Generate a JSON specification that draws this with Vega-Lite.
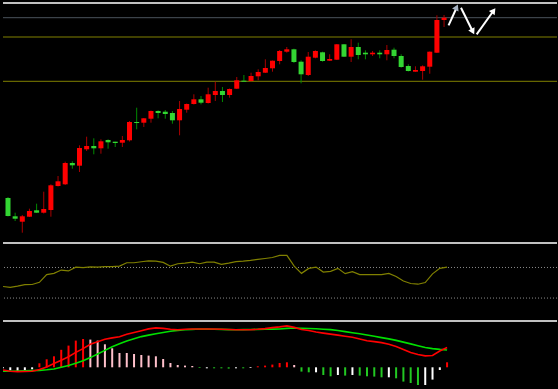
{
  "$schema": "https://vega.github.io/schema/vega-lite/v6.json",
  "background": "#000000",
  "padding": {"left": 2, "top": 2, "right": 2, "bottom": 3},
  "spacing": 0,
  "bounds": "flush",
  "resolve": {"scale": {"color": "independent", "x": "independent", "y": "independent"}},
  "config": {"view": {"stroke": null}},
  "datasets": {
    "bars": [
      {"i":0,"o":45,"h":46,"l":26.5,"c":27,"rsi":45.1,"dif":-2.7,"dea":-4,"hist":-1,"hs":"W"},
      {"i":1,"o":26.7,"h":30.3,"l":22,"c":24.3,"rsi":43.9,"dif":-3.9,"dea":-3.9,"hist":-3,"hs":"W"},
      {"i":2,"o":21.3,"h":28,"l":10.3,"c":26.7,"rsi":45.5,"dif":-4.3,"dea":-3.8,"hist":-4,"hs":"W"},
      {"i":3,"o":26.3,"h":34.3,"l":26,"c":32,"rsi":47.5,"dif":-4.2,"dea":-3.6,"hist":-3,"hs":"W"},
      {"i":4,"o":32.7,"h":39.3,"l":30,"c":30.3,"rsi":47.7,"dif":-3.9,"dea":-3.3,"hist":-2,"hs":"W"},
      {"i":5,"o":30.3,"h":51.3,"l":29.5,"c":34,"rsi":50.6,"dif":-2.2,"dea":-3.1,"hist":4,"hs":"R"},
      {"i":6,"o":33,"h":58.7,"l":26.3,"c":57.7,"rsi":60.6,"dif":0.3,"dea":-2.5,"hist":8,"hs":"R"},
      {"i":7,"o":57,"h":67,"l":56.5,"c":61.7,"rsi":62.3,"dif":3.8,"dea":-1.7,"hist":11,"hs":"R"},
      {"i":8,"o":58.7,"h":81.3,"l":58,"c":80,"rsi":66.6,"dif":7.1,"dea":0.1,"hist":17.5,"hs":"R"},
      {"i":9,"o":80,"h":81.7,"l":74.3,"c":77.7,"rsi":65.5,"dif":10.5,"dea":1.8,"hist":21.7,"hs":"R"},
      {"i":10,"o":77.3,"h":97.7,"l":71,"c":95,"rsi":70.4,"dif":14.9,"dea":4,"hist":26.7,"hs":"R"},
      {"i":11,"o":93.7,"h":106.3,"l":92,"c":97,"rsi":69.9,"dif":18.7,"dea":6.5,"hist":28.3,"hs":"R"},
      {"i":12,"o":97,"h":104.7,"l":88.7,"c":94.7,"rsi":70.9,"dif":23,"dea":9.7,"hist":27.7,"hs":"P"},
      {"i":13,"o":94.7,"h":103.7,"l":89.3,"c":101.7,"rsi":70.5,"dif":25.6,"dea":13.3,"hist":26.7,"hs":"P"},
      {"i":14,"o":103,"h":103.7,"l":94.3,"c":100.7,"rsi":71,"dif":28.1,"dea":16.9,"hist":23,"hs":"P"},
      {"i":15,"o":101.3,"h":101.3,"l":96,"c":100,"rsi":71,"dif":29.4,"dea":20.6,"hist":19,"hs":"P"},
      {"i":16,"o":100.3,"h":107,"l":96,"c":103,"rsi":71.8,"dif":30.6,"dea":23.5,"hist":14.3,"hs":"P"},
      {"i":17,"o":102.7,"h":122,"l":101.5,"c":121,"rsi":76.2,"dif":33,"dea":26.3,"hist":14.3,"hs":"P"},
      {"i":18,"o":121,"h":135.3,"l":113.7,"c":120,"rsi":76.2,"dif":34.8,"dea":28.5,"hist":13.3,"hs":"P"},
      {"i":19,"o":120.3,"h":125,"l":116,"c":124.7,"rsi":77.5,"dif":36.6,"dea":30.7,"hist":12.3,"hs":"P"},
      {"i":20,"o":124.3,"h":132.5,"l":120.3,"c":132,"rsi":78.7,"dif":38.4,"dea":32.2,"hist":11.7,"hs":"P"},
      {"i":21,"o":132,"h":132.7,"l":124.7,"c":130,"rsi":78.4,"dif":39.4,"dea":33.6,"hist":11,"hs":"P"},
      {"i":22,"o":131.3,"h":133,"l":124.3,"c":129,"rsi":76.6,"dif":38.9,"dea":34.8,"hist":8.3,"hs":"P"},
      {"i":23,"o":130,"h":132,"l":119.3,"c":122.7,"rsi":71.7,"dif":38.1,"dea":36,"hist":4.3,"hs":"P"},
      {"i":24,"o":122.7,"h":142,"l":107.7,"c":134,"rsi":74.9,"dif":37.6,"dea":36.9,"hist":2.3,"hs":"P"},
      {"i":25,"o":133.3,"h":139.5,"l":130.3,"c":139,"rsi":75.7,"dif":38.1,"dea":37.5,"hist":1.7,"hs":"P"},
      {"i":26,"o":139,"h":148.7,"l":138.5,"c":143.7,"rsi":77,"dif":38.3,"dea":37.9,"hist":1.3,"hs":"P"},
      {"i":27,"o":143.7,"h":147,"l":138.7,"c":140.3,"rsi":74.9,"dif":38.3,"dea":38.3,"hist":-0.7,"hs":"G"},
      {"i":28,"o":140,"h":155.3,"l":139.5,"c":148.7,"rsi":76.9,"dif":38.3,"dea":38.2,"hist":-1,"hs":"W"},
      {"i":29,"o":148,"h":161.3,"l":142,"c":152,"rsi":77,"dif":38.3,"dea":38,"hist":-1,"hs":"G"},
      {"i":30,"o":152,"h":156,"l":141,"c":148,"rsi":74,"dif":38.1,"dea":37.9,"hist":-1,"hs":"G"},
      {"i":31,"o":148,"h":154.5,"l":145.3,"c":154,"rsi":75.7,"dif":37.8,"dea":37.7,"hist":-1.3,"hs":"G"},
      {"i":32,"o":154.3,"h":166,"l":154,"c":162.7,"rsi":77.7,"dif":37.6,"dea":37.6,"hist":-1,"hs":"W"},
      {"i":33,"o":162.3,"h":168,"l":161.3,"c":161.3,"rsi":78.3,"dif":37.6,"dea":37.7,"hist":-1,"hs":"G"},
      {"i":34,"o":162,"h":170.3,"l":161.5,"c":167,"rsi":79.2,"dif":37.6,"dea":37.8,"hist":-0.7,"hs":"W"},
      {"i":35,"o":166.7,"h":173.7,"l":162.7,"c":171,"rsi":80.5,"dif":38,"dea":37.9,"hist":1,"hs":"R"},
      {"i":36,"o":170.3,"h":183.7,"l":170,"c":175,"rsi":81.7,"dif":38.7,"dea":38,"hist":1.7,"hs":"R"},
      {"i":37,"o":174.7,"h":182.5,"l":171.3,"c":182.3,"rsi":83,"dif":39.7,"dea":38.2,"hist":2.7,"hs":"R"},
      {"i":38,"o":182,"h":193,"l":178.7,"c":192,"rsi":85.7,"dif":40.4,"dea":38.3,"hist":4.3,"hs":"R"},
      {"i":39,"o":191.3,"h":196,"l":190.3,"c":193.7,"rsi":85.7,"dif":41.4,"dea":38.9,"hist":5,"hs":"R"},
      {"i":40,"o":193.7,"h":194.3,"l":180,"c":181,"rsi":71.8,"dif":39.9,"dea":39.3,"hist":2.3,"hs":"P"},
      {"i":41,"o":181.3,"h":182.7,"l":159.7,"c":168.7,"rsi":62.3,"dif":37.8,"dea":39.1,"hist":-4.3,"hs":"G"},
      {"i":42,"o":168,"h":191,"l":167,"c":186.3,"rsi":68.8,"dif":36.8,"dea":38.8,"hist":-5,"hs":"G"},
      {"i":43,"o":185.3,"h":192.7,"l":184.7,"c":192,"rsi":70.5,"dif":35.3,"dea":38.5,"hist":-5,"hs":"W"},
      {"i":44,"o":190.7,"h":191.3,"l":181.3,"c":182,"rsi":64,"dif":34.2,"dea":38.1,"hist":-7.7,"hs":"G"},
      {"i":45,"o":182.3,"h":188.7,"l":182,"c":184,"rsi":64.9,"dif":33.2,"dea":37.7,"hist":-9,"hs":"G"},
      {"i":46,"o":183.3,"h":199,"l":183,"c":198.7,"rsi":68.8,"dif":32.2,"dea":36.8,"hist":-7.7,"hs":"W"},
      {"i":47,"o":198.7,"h":199,"l":186,"c":186.3,"rsi":61.9,"dif":31.1,"dea":35.7,"hist":-8.3,"hs":"G"},
      {"i":48,"o":186.3,"h":203.7,"l":181,"c":196,"rsi":64.5,"dif":30,"dea":34.6,"hist":-7.7,"hs":"W"},
      {"i":49,"o":196,"h":200.3,"l":183.7,"c":188,"rsi":60.6,"dif":28.3,"dea":33.5,"hist":-8.3,"hs":"G"},
      {"i":50,"o":190.3,"h":192.7,"l":183.7,"c":188.7,"rsi":60.6,"dif":26.6,"dea":32.3,"hist":-9,"hs":"G"},
      {"i":51,"o":188.7,"h":192,"l":187,"c":190.3,"rsi":60.6,"dif":25.7,"dea":31,"hist":-9.3,"hs":"G"},
      {"i":52,"o":190.3,"h":192.7,"l":184.7,"c":188.7,"rsi":60.6,"dif":24.7,"dea":29.7,"hist":-10,"hs":"G"},
      {"i":53,"o":188.7,"h":198,"l":182.7,"c":193,"rsi":62.3,"dif":23.1,"dea":28.4,"hist":-10,"hs":"W"},
      {"i":54,"o":193.3,"h":195.3,"l":184.7,"c":187,"rsi":58.1,"dif":20.7,"dea":26.9,"hist":-11,"hs":"G"},
      {"i":55,"o":187,"h":188.7,"l":175.3,"c":176,"rsi":52.3,"dif":17.9,"dea":25.2,"hist":-14.3,"hs":"G"},
      {"i":56,"o":177,"h":178.7,"l":171.5,"c":172,"rsi":49,"dif":14.9,"dea":23.4,"hist":-15.7,"hs":"G"},
      {"i":57,"o":171.3,"h":176.7,"l":171.3,"c":173,"rsi":48.1,"dif":12.8,"dea":21.6,"hist":-17.7,"hs":"G"},
      {"i":58,"o":172,"h":177.7,"l":163.3,"c":176.7,"rsi":50.3,"dif":11.4,"dea":19.8,"hist":-17.7,"hs":"W"},
      {"i":59,"o":176.3,"h":191.5,"l":169.3,"c":191.3,"rsi":61.7,"dif":11.8,"dea":18.7,"hist":-12.3,"hs":"W"},
      {"i":60,"o":190.3,"h":227.7,"l":190,"c":223,"rsi":68.8,"dif":16.3,"dea":17.9,"hist":-2.7,"hs":"W"},
      {"i":61,"o":223,"h":228,"l":216,"c":225.3,"rsi":70.5,"dif":19.8,"dea":17.3,"hist":5,"hs":"R"}
    ],
    "levels": [
      {"level": 225.3, "kind": "mark"},
      {"level": 206, "kind": "band"},
      {"level": 161.7, "kind": "band"}
    ],
    "rsiLevels": [{"level": 70}, {"level": 30}],
    "arrows": [
      {"id": 1, "x": 61.63, "y": 217.7, "x2": 62.8, "y2": 236, "hx": 62.75, "hy": 235.8},
      {"id": 2, "x": 63.37, "y": 235.3, "x2": 65.05, "y2": 211, "hx": 65.02, "hy": 211.4},
      {"id": 3, "x": 65.56, "y": 208.7, "x2": 67.9, "y2": 232, "hx": 67.93, "hy": 232.3}
    ]
  },
  "vconcat": [
    {
      "width": 554,
      "height": 240,
      "layer": [
        {
          "data": {"name": "levels"},
          "mark": {"type": "rule", "strokeWidth": 1},
          "encoding": {
            "y": {"field": "level", "type": "quantitative", "scale": {"domain": [0, 240], "nice": false, "zero": false}, "axis": null},
            "color": {"field": "kind", "type": "nominal", "scale": {"domain": ["mark", "band"], "range": ["#4a535c", "#808000"]}, "legend": null}
          }
        },
        {
          "data": {"name": "bars"},
          "mark": {"type": "rule", "strokeWidth": 1, "clip": true},
          "encoding": {
            "x": {"field": "i", "type": "quantitative", "scale": {"domain": [0, 76.1], "nice": false, "zero": false}, "axis": null},
            "y": {"field": "h", "type": "quantitative", "scale": {"domain": [0, 240], "nice": false, "zero": false}, "axis": null},
            "y2": {"field": "l"},
            "color": {"condition": {"test": "datum.c >= datum.o", "value": "#a80000"}, "value": "#008a00"}
          }
        },
        {
          "data": {"name": "bars"},
          "mark": {"type": "bar", "size": 5, "clip": true},
          "encoding": {
            "x": {"field": "i", "type": "quantitative", "scale": {"domain": [0, 76.1], "nice": false, "zero": false}, "axis": null},
            "y": {"field": "o", "type": "quantitative", "scale": {"domain": [0, 240], "nice": false, "zero": false}, "axis": null},
            "y2": {"field": "c"},
            "color": {"condition": {"test": "datum.c >= datum.o", "value": "#ff0000"}, "value": "#33d633"}
          }
        },
        {
          "data": {"name": "arrows"},
          "mark": {"type": "rule", "strokeWidth": 2, "color": "#ffffff", "clip": true},
          "encoding": {
            "x": {"field": "x", "type": "quantitative", "scale": {"domain": [0, 76.1], "nice": false, "zero": false}, "axis": null},
            "x2": {"field": "x2"},
            "y": {"field": "y", "type": "quantitative", "scale": {"domain": [0, 240], "nice": false, "zero": false}, "axis": null},
            "y2": {"field": "y2"}
          }
        },
        {
          "data": {"name": "arrows"},
          "transform": [{"filter": "datum.id == 1"}],
          "mark": {"type": "point", "shape": "triangle-up", "filled": true, "opacity": 1, "size": 50, "angle": 24, "color": "#a6b2c2", "clip": true},
          "encoding": {
            "x": {"field": "hx", "type": "quantitative", "scale": {"domain": [0, 76.1], "nice": false, "zero": false}, "axis": null},
            "y": {"field": "hy", "type": "quantitative", "scale": {"domain": [0, 240], "nice": false, "zero": false}, "axis": null}
          }
        },
        {
          "data": {"name": "arrows"},
          "transform": [{"filter": "datum.id == 2"}],
          "mark": {"type": "point", "shape": "triangle-up", "filled": true, "opacity": 1, "size": 50, "angle": 153, "color": "#ffffff", "clip": true},
          "encoding": {
            "x": {"field": "hx", "type": "quantitative", "scale": {"domain": [0, 76.1], "nice": false, "zero": false}, "axis": null},
            "y": {"field": "hy", "type": "quantitative", "scale": {"domain": [0, 240], "nice": false, "zero": false}, "axis": null}
          }
        },
        {
          "data": {"name": "arrows"},
          "transform": [{"filter": "datum.id == 3"}],
          "mark": {"type": "point", "shape": "triangle-up", "filled": true, "opacity": 1, "size": 50, "angle": 36, "color": "#ffffff", "clip": true},
          "encoding": {
            "x": {"field": "hx", "type": "quantitative", "scale": {"domain": [0, 76.1], "nice": false, "zero": false}, "axis": null},
            "y": {"field": "hy", "type": "quantitative", "scale": {"domain": [0, 240], "nice": false, "zero": false}, "axis": null}
          }
        },
        {
          "data": {"values": [{}]},
          "mark": {"type": "rule", "strokeWidth": 2, "color": "#c0c0c0"},
          "encoding": {"y": {"datum": 240, "type": "quantitative", "scale": {"domain": [0, 240], "nice": false, "zero": false}, "axis": null}}
        }
      ]
    },
    {
      "width": 554,
      "height": 78,
      "layer": [
        {
          "data": {"name": "rsiLevels"},
          "mark": {"type": "rule", "strokeWidth": 1, "strokeDash": [1, 2], "color": "#8a8a8a"},
          "encoding": {
            "y": {"field": "level", "type": "quantitative", "scale": {"domain": [0, 102], "nice": false, "zero": false}, "axis": null}
          }
        },
        {
          "data": {"name": "bars"},
          "mark": {"type": "line", "strokeWidth": 1.2, "color": "#808000", "clip": true},
          "encoding": {
            "x": {"field": "i", "type": "quantitative", "scale": {"domain": [0, 76.1], "nice": false, "zero": false}, "axis": null},
            "y": {"field": "rsi", "type": "quantitative", "scale": {"domain": [0, 102], "nice": false, "zero": false}, "axis": null}
          }
        },
        {
          "data": {"values": [{}]},
          "mark": {"type": "rule", "strokeWidth": 2, "color": "#c0c0c0"},
          "encoding": {"y": {"datum": 102, "type": "quantitative", "scale": {"domain": [0, 102], "nice": false, "zero": false}, "axis": null}}
        }
      ]
    },
    {
      "width": 554,
      "height": 66,
      "layer": [
        {
          "data": {"name": "bars"},
          "mark": {"type": "rule", "strokeWidth": 2, "clip": true},
          "encoding": {
            "x": {"field": "i", "type": "quantitative", "scale": {"domain": [0, 76.1], "nice": false, "zero": false}, "axis": null},
            "y": {"field": "hist", "type": "quantitative", "scale": {"domain": [-19.7, 46.3], "nice": false, "zero": false}, "axis": null},
            "y2": {"datum": 0},
            "color": {"field": "hs", "type": "nominal", "scale": {"domain": ["R", "P", "G", "W"], "range": ["#ff0000", "#ffc0cb", "#22c822", "#ffffff"]}, "legend": null}
          }
        },
        {
          "data": {"name": "bars"},
          "mark": {"type": "line", "strokeWidth": 1.6, "color": "#00e000", "clip": true},
          "encoding": {
            "x": {"field": "i", "type": "quantitative", "scale": {"domain": [0, 76.1], "nice": false, "zero": false}, "axis": null},
            "y": {"field": "dea", "type": "quantitative", "scale": {"domain": [-19.7, 46.3], "nice": false, "zero": false}, "axis": null}
          }
        },
        {
          "data": {"name": "bars"},
          "mark": {"type": "line", "strokeWidth": 1.6, "color": "#ff0000", "clip": true},
          "encoding": {
            "x": {"field": "i", "type": "quantitative", "scale": {"domain": [0, 76.1], "nice": false, "zero": false}, "axis": null},
            "y": {"field": "dif", "type": "quantitative", "scale": {"domain": [-19.7, 46.3], "nice": false, "zero": false}, "axis": null}
          }
        },
        {
          "data": {"values": [{}]},
          "mark": {"type": "rule", "strokeWidth": 2, "color": "#c0c0c0"},
          "encoding": {"y": {"datum": 46.3, "type": "quantitative", "scale": {"domain": [-19.7, 46.3], "nice": false, "zero": false}, "axis": null}}
        }
      ]
    }
  ]
}
